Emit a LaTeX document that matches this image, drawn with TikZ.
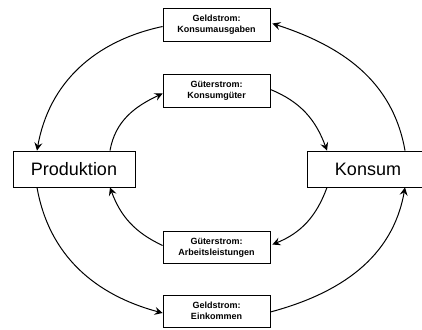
\documentclass[tikz,border=0pt]{standalone}
\usepackage{fontspec}
\setmainfont{Liberation Sans}
\usetikzlibrary{arrows.meta}
\begin{document}
\begin{tikzpicture}[x=1pt,y=1pt,
  flowbox/.style={draw, line width=0.8pt, minimum width=107pt, minimum height=33pt,
    inner sep=0pt, align=center, font=\fontsize{9}{11}\selectfont\bfseries},
  sectorbox/.style={draw, line width=0.8pt, minimum width=122pt, minimum height=36pt,
    inner sep=0pt, font=\fontsize{18}{21}\selectfont},
  flow/.style={line width=1pt, -{Stealth[length=8pt,width=8pt,inset=3pt]}}]
  \clip (0,0) rectangle (422,329);
  \fill[white] (0,0) rectangle (422,329);

  % sectors
  \node[sectorbox] (prod) at (74,160) {Produktion};
  \node[sectorbox] (kons) at (368,160) {Konsum};

  % money and goods flows
  \node[flowbox] (ka) at (216.5,304.5) {Geldstrom:\\Konsumausgaben};
  \node[flowbox] (kg) at (216.5,238.5) {Güterstrom:\\Konsumgüter};
  \node[flowbox, minimum height=32pt] (al) at (216.5,81.5) {Güterstrom:\\Arbeitsleistungen};
  \node[flowbox, minimum height=32pt] (ek) at (216.5,18) {Geldstrom:\\Einkommen};

  % outer cycle (money)
  \draw[flow] (ka.west) ++(0,-2) coordinate (ka1) (ka1) to[out=192,in=80] ([xshift=-37pt]prod.north);
  \draw[flow] ([xshift=37pt]kons.north) to[out=100,in=-18] ([xshift=2pt,yshift=1pt]ka.east);
  \draw[flow] ([xshift=-37pt]prod.south) to[out=-80,in=165] ([yshift=-2pt]ek.west);
  \draw[flow] ([yshift=-1pt]ek.east) to[out=15,in=-100] ([xshift=37pt]kons.south);

  % inner cycle (goods)
  \draw[flow] ([xshift=36pt]prod.north) to[out=80,in=205] ([yshift=-3pt]kg.west);
  \draw[flow] ([yshift=1pt]kg.east) to[out=-22,in=110] ([xshift=-41pt]kons.north);
  \draw[flow] ([xshift=-41pt]kons.south) to[out=-110,in=22] ([xshift=2pt,yshift=3pt]al.east);
  \draw[flow] ([yshift=2pt]al.west) to[out=155,in=-70] ([xshift=36pt]prod.south);
\end{tikzpicture}
\end{document}
